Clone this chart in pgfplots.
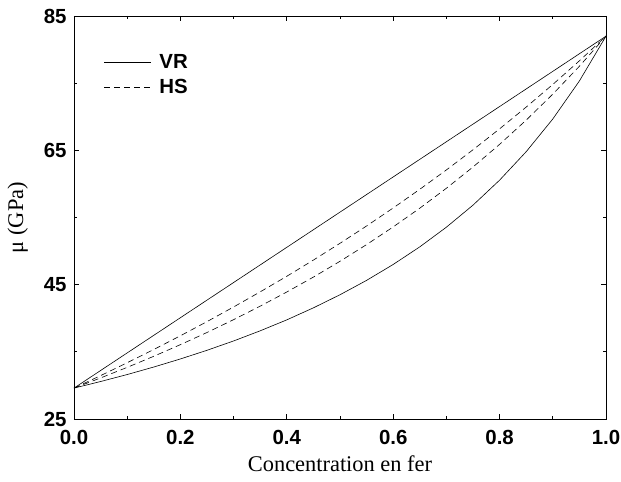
\documentclass[border=0pt]{standalone}
\usepackage{fontspec}
\setmainfont{Liberation Serif}
\setsansfont{Liberation Sans}
\usepackage{pgfplots}
\pgfplotsset{compat=1.18}
\begin{document}
\begin{tikzpicture}
\begin{axis}[
  scale only axis,
  width=532bp, height=403bp,
  xmin=0, xmax=1, ymin=25, ymax=85,
  xtick={0,0.2,0.4,0.6,0.8,1.0},
  xticklabels={0.0,0.2,0.4,0.6,0.8,1.0},
  ytick={25,45,65,85},
  yticklabels={25,45,65,85},
  minor xtick={0.1,0.3,0.5,0.7,0.9},
  minor ytick={35,55,75},
  tick align=inside,
  major tick length=5bp,
  minor tick length=3bp,
  tick style={black, line width=0.8pt},
  axis line style={line width=0.9pt},
  ticklabel style={font=\fontsize{20.5}{24}\selectfont\sffamily\bfseries},
  xticklabel style={yshift=-8bp},
  yticklabel style={xshift=-4bp},
  xlabel={Concentration en fer},
  ylabel={μ (GPa)},
  label style={font=\fontsize{22.5}{26}\selectfont},
  xlabel style={yshift=-4bp},
  ylabel style={yshift=9bp},
  clip=false,
  legend style={draw=none, fill=none, at={(rel axis cs:0.05,0.915)}, anchor=north west,
    font=\fontsize{20.5}{24}\selectfont\sffamily\bfseries, row sep=5bp,
    /tikz/every odd column/.append style={column sep=6bp}},
  legend cell align=left,
  legend image code/.code={\draw[#1] (0bp,0bp) -- (47bp,0bp);},
]
% Voigt (upper bound)
\addplot[black, line width=0.6pt] coordinates {
(0,29.6) (0.25,42.7) (0.5,55.8) (0.75,68.9) (1,82.0)};
\addlegendentry{VR}
% HS upper
\addplot[black, line width=0.6pt, dash pattern=on 6bp off 4bp] coordinates {
(0,29.60) (0.05,31.46) (0.1,33.38) (0.15,35.35) (0.2,37.39) (0.25,39.50)
(0.3,41.68) (0.35,43.93) (0.4,46.25) (0.45,48.66) (0.5,51.16) (0.55,53.74)
(0.6,56.42) (0.65,59.20) (0.7,62.08) (0.75,65.08) (0.8,68.20) (0.85,71.44)
(0.9,74.81) (0.95,78.33) (1,82.0)};
\addlegendentry{HS}
% HS lower
\addplot[black, line width=0.6pt, dash pattern=on 6bp off 4bp, forget plot] coordinates {
(0,29.60) (0.05,31.11) (0.1,32.69) (0.15,34.34) (0.2,36.07) (0.25,37.88)
(0.3,39.79) (0.35,41.80) (0.4,43.91) (0.45,46.13) (0.5,48.48) (0.55,50.97)
(0.6,53.60) (0.65,56.39) (0.7,59.36) (0.75,62.52) (0.8,65.89) (0.85,69.50)
(0.9,73.37) (0.95,77.52) (1,82.0)};
% Reuss (lower bound)
\addplot[black, line width=0.6pt, forget plot] coordinates {
(0,29.60) (0.05,30.58) (0.1,31.62) (0.15,32.74) (0.2,33.94) (0.25,35.23)
(0.3,36.62) (0.35,38.13) (0.4,39.76) (0.45,41.55) (0.5,43.50) (0.55,45.64)
(0.6,48.01) (0.65,50.63) (0.7,53.56) (0.75,56.84) (0.8,60.56) (0.85,64.80)
(0.9,69.67) (0.95,75.33) (1,82.0)};
\coordinate (bl) at (rel axis cs:0,0);
\coordinate (tr) at (rel axis cs:1,1);
\end{axis}
\pgfresetboundingbox
\path ([shift={(-74bp,-63bp)}]bl) rectangle ([shift={(15bp,16bp)}]tr);
\end{tikzpicture}
\end{document}
